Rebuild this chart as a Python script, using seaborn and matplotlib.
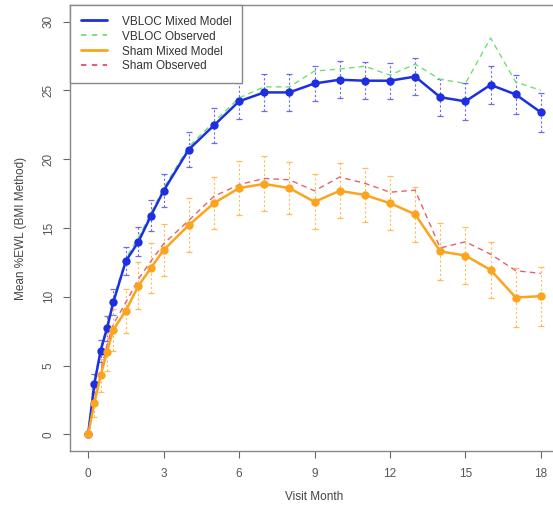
import numpy as np
import pandas as pd
import matplotlib
matplotlib.use("Agg")
import matplotlib.pyplot as plt
import seaborn as sns
from matplotlib.lines import Line2D

months = [0, 0.25, 0.5, 0.75, 1, 1.5, 2, 2.5, 3, 4, 5, 6, 7, 8, 9, 10, 11, 12, 13, 14, 15, 16, 17, 18]
vbloc_model = [0, 3.7, 6.1, 7.7, 9.6, 12.6, 14.0, 15.9, 17.7, 20.7, 22.45, 24.2, 24.85, 24.85,
               25.5, 25.77, 25.7, 25.7, 26.0, 24.5, 24.2, 25.4, 24.7, 23.4]
vbloc_err = [0, 0.7, 0.8, 0.9, 0.95, 1.0, 1.05, 1.1, 1.2, 1.3, 1.25, 1.3, 1.35, 1.35,
             1.3, 1.35, 1.35, 1.3, 1.35, 1.35, 1.35, 1.4, 1.4, 1.4]
vbloc_obs = [0, 3.9, 6.3, 7.9, 9.8, 12.8, 14.3, 16.1, 17.9, 20.9, 22.7, 24.45, 25.25, 25.25,
             26.4, 26.55, 26.75, 26.1, 26.9, 25.8, 25.5, 28.8, 25.6, 25.0]
sham_model = [0, 2.3, 4.3, 6.0, 7.6, 9.0, 10.8, 12.1, 13.4, 15.2, 16.8, 17.9, 18.2, 17.9,
              16.9, 17.7, 17.4, 16.8, 16.0, 13.3, 13.0, 11.95, 9.95, 10.05]
sham_err = [0, 1.0, 1.2, 1.4, 1.5, 1.6, 1.7, 1.8, 1.9, 1.95, 1.9, 1.95, 2.0, 1.9,
            2.0, 2.0, 1.95, 1.95, 2.0, 2.05, 2.05, 2.0, 2.15, 2.15]
sham_obs = [0, 2.5, 4.6, 6.5, 8.0, 9.6, 11.3, 12.6, 13.85, 15.55, 17.3, 18.15, 18.6, 18.5,
            17.7, 18.7, 18.25, 17.6, 17.75, 13.55, 14.0, 13.1, 11.9, 11.7]
x_ticks = [0, 3, 6, 9, 12, 15, 18]
y_ticks = [0, 5, 10, 15, 20, 25, 30]

sns.set_theme(style="white")
plt.rcParams['font.family'] = ['Liberation Sans', 'DejaVu Sans']

fig = plt.figure(figsize=(5.53, 5.12), dpi=100)
ax = fig.add_axes([70/553, 1-451/512, 489/553, 446/512])

df = pd.DataFrame({"month": months, "vm": vbloc_model, "vo": vbloc_obs,
                   "sm": sham_model, "so": sham_obs})

# error bars
ebv = ax.errorbar(months, vbloc_model, yerr=vbloc_err, fmt='none', ecolor='#6a6af2',
                  elinewidth=0.8, capsize=2.5, capthick=0.9, zorder=2)
ebv[2][0].set_linestyle((0, (2, 2)))
ebs = ax.errorbar(months, sham_model, yerr=sham_err, fmt='none', ecolor='#ffbe55',
                  elinewidth=0.8, capsize=2.5, capthick=0.9, zorder=2)
ebs[2][0].set_linestyle((0, (2, 2)))

sns.lineplot(data=df, x="month", y="vo", ax=ax, color='#70e070', lw=1.0,
             linestyle=(0, (4, 3)), zorder=3, label="_nolegend_")
sns.lineplot(data=df, x="month", y="so", ax=ax, color='#e8606c', lw=1.0,
             linestyle=(0, (4, 3)), zorder=3, label="_nolegend_")
sns.lineplot(data=df, x="month", y="vm", ax=ax, color='#1d2fe0', lw=1.8,
             marker='o', markersize=6, markeredgewidth=0, zorder=4, label="_nolegend_")
sns.lineplot(data=df, x="month", y="sm", ax=ax, color='#fca41e', lw=1.8,
             marker='o', markersize=6, markeredgewidth=0, zorder=4, label="_nolegend_")

ax.set_xlim(-0.72, 18.72)
ax.set_ylim(-1.2, 31.2)
ax.set_xticks(x_ticks)
ax.set_yticks(y_ticks)
ax.set_xticklabels([str(t) for t in x_ticks])
ax.set_yticklabels([str(t) for t in y_ticks], rotation=90, va='center')
ax.tick_params(axis='both', which='both', direction='out', length=5, width=0.8,
               color='#666666', labelsize=8.5, labelcolor='#555555',
               bottom=True, left=True)
ax.tick_params(axis='x', pad=7)
ax.tick_params(axis='y', pad=6)
for s in ax.spines.values():
    s.set_color('#888888')
    s.set_linewidth(1.0)
ax.set_xlabel("Visit Month", fontsize=8.5, color='#444444', labelpad=8)
ax.set_ylabel("Mean %EWL (BMI Method)", fontsize=8.5, color='#444444', labelpad=11)

handles = [Line2D([], [], color='#1d2fe0', lw=2.0),
           Line2D([], [], color='#70e070', lw=1.3, linestyle=(0, (3, 3))),
           Line2D([], [], color='#fca41e', lw=2.0),
           Line2D([], [], color='#e8505e', lw=1.3, linestyle=(0, (3, 3)))]
labels = ["VBLOC Mixed Model", "VBLOC Observed", "Sham Mixed Model", "Sham Observed"]
leg = ax.legend(handles, labels, loc='upper left', bbox_to_anchor=(0, 1), fontsize=8.5,
                frameon=True, fancybox=False, framealpha=1, edgecolor='#888888',
                borderaxespad=0, handlelength=2.2, labelspacing=0.25, borderpad=0.9,
                handletextpad=1.3)
for t in leg.get_texts():
    t.set_color('#333333')
leg.get_frame().set_linewidth(1.0)

fig.savefig("out.png", dpi=100)
